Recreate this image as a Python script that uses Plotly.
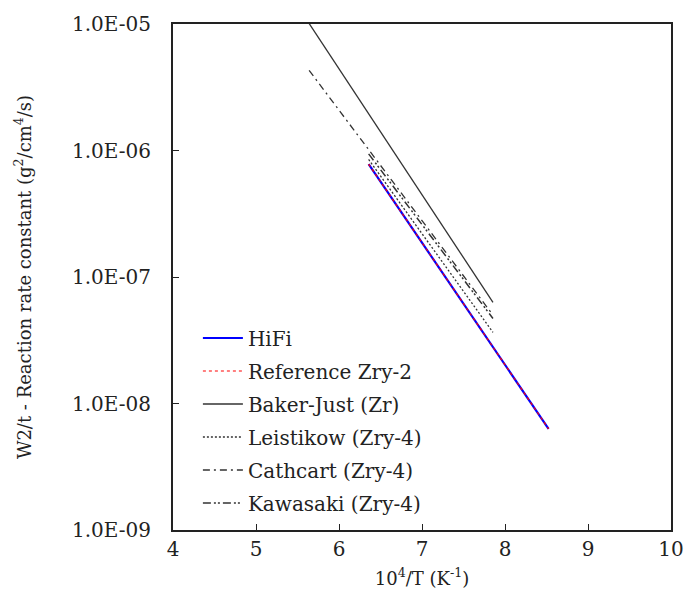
import plotly.graph_objects as go

# Data (10^4/T endpoints, rate constant endpoints)
hifi_x = [6.357, 8.525]
hifi_y = [7.8e-7, 6.3e-9]
ref_x = [6.357, 8.525]
ref_y = [7.8e-7, 6.3e-9]
baker_x = [5.64, 7.855]
baker_y = [1.01e-5, 6.3e-8]
leist_x = [6.357, 7.855]
leist_y = [8.5e-7, 3.65e-8]
cath_x = [5.64, 7.855]
cath_y = [4.3e-6, 5.0e-8]
kawa_x = [6.357, 7.855]
kawa_y = [9.4e-7, 4.7e-8]

x_ticks = [4, 5, 6, 7, 8, 9, 10]
y_ticks = [1e-9, 1e-8, 1e-7, 1e-6, 1e-5]
y_ticktext = ["1.0E-09", "1.0E-08", "1.0E-07", "1.0E-06", "1.0E-05"]

FONT = "DejaVu Serif"

fig = go.Figure()
fig.add_trace(go.Scatter(x=hifi_x, y=hifi_y, mode="lines", name="HiFi",
                         line=dict(color="#0000ff", width=2.2), legendgroup="a"))
fig.add_trace(go.Scatter(x=ref_x, y=ref_y, mode="lines", name="Reference Zry-2",
                         line=dict(color="#ff0000", width=1.2, dash="dot"), legendgroup="b"))
fig.add_trace(go.Scatter(x=baker_x, y=baker_y, mode="lines", name="Baker-Just (Zr)",
                         line=dict(color="#333333", width=1.3), legendgroup="c"))
fig.add_trace(go.Scatter(x=leist_x, y=leist_y, mode="lines", name="Leistikow (Zry-4)",
                         line=dict(color="#333333", width=1.3, dash="2px,2px"), legendgroup="d"))
fig.add_trace(go.Scatter(x=cath_x, y=cath_y, mode="lines", name="Cathcart (Zry-4)",
                         line=dict(color="#333333", width=1.3, dash="7px,4px,2px,4px"), legendgroup="e"))
fig.add_trace(go.Scatter(x=kawa_x, y=kawa_y, mode="lines", name="Kawasaki (Zry-4)",
                         line=dict(color="#333333", width=1.5, dash="8px,3px,2px,2px,2px,3px"), legendgroup="f"))

fig.update_layout(
    width=696, height=609,
    margin=dict(l=173, r=15, t=15, b=79),
    paper_bgcolor="white", plot_bgcolor="white",
    font=dict(family=FONT, size=18, color="#222222"),
    showlegend=True,
    legend=dict(x=0.05, y=0.418, xanchor="left", yanchor="top",
                bgcolor="rgba(0,0,0,0)", font=dict(family=FONT, size=20, color="#222222"),
                tracegroupgap=4, itemwidth=40),
    xaxis=dict(range=[4, 10], tickvals=x_ticks, ticks="inside", ticklen=6,
               tickcolor="#222222", showline=True, linecolor="#222222", linewidth=2,
               mirror=True, showgrid=False, zeroline=False,
               title=dict(text="10<sup>4</sup>/T (K<sup>-1</sup>)", standoff=12,
                          font=dict(family=FONT, size=18)),
               tickfont=dict(family=FONT, size=20)),
    yaxis=dict(type="log", range=[-9, -5], tickvals=y_ticks, ticktext=y_ticktext,
               ticks="inside", ticklen=6, tickcolor="#222222", showline=True,
               linecolor="#222222", linewidth=2, mirror=True, showgrid=False,
               zeroline=False, ticklabelstandoff=16,
               title=dict(text="W2/t - Reaction rate constant (g<sup>2</sup>/cm<sup>4</sup>/s)", standoff=36,
                          font=dict(family=FONT, size=18)),
               tickfont=dict(family=FONT, size=20)),
)

fig.write_html("out.html")
